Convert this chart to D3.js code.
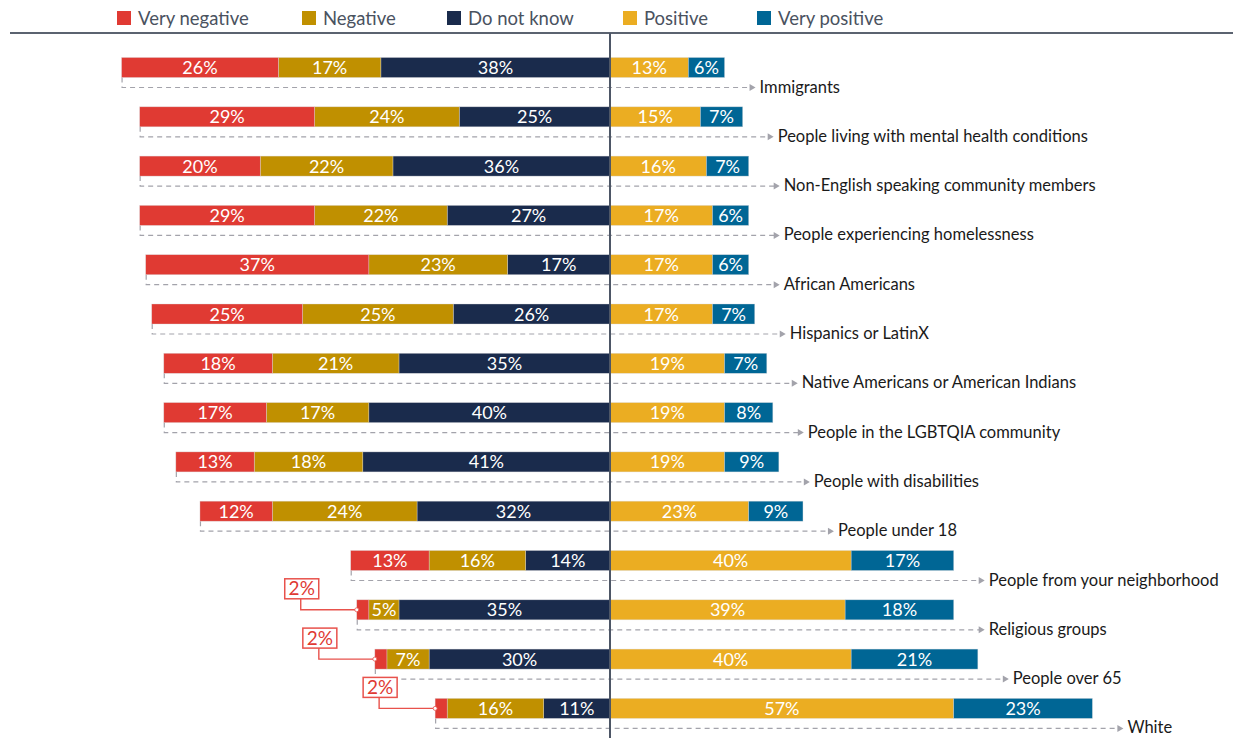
<!DOCTYPE html>
<html>
<head>
<meta charset="utf-8">
<script src="https://cdn.jsdelivr.net/npm/d3@7"></script>
<style>
  html, body { margin: 0; padding: 0; background: #fff; }
  svg { display: block; font-family: Lato, "Noto Sans", sans-serif; }
</style>
</head>
<body>
<svg id="chart" width="1233" height="738"></svg>
<script>
// Attitudes toward community groups, share of responses (%)
const categories = [
  "Immigrants",
  "People living with mental health conditions",
  "Non-English speaking community members",
  "People experiencing homelessness",
  "African Americans",
  "Hispanics or LatinX",
  "Native Americans or American Indians",
  "People in the LGBTQIA community",
  "People with disabilities",
  "People under 18",
  "People from your neighborhood",
  "Religious groups",
  "People over 65",
  "White"
];
const seriesNames = ["Very negative", "Negative", "Do not know", "Positive", "Very positive"];
const veryNegative = [26, 29, 20, 29, 37, 25, 18, 17, 13, 12, 13, 2, 2, 2];
const negative     = [17, 24, 22, 22, 23, 25, 21, 17, 18, 24, 16, 5, 7, 16];
const doNotKnow    = [38, 25, 36, 27, 17, 26, 35, 40, 41, 32, 14, 35, 30, 11];
const positive     = [13, 15, 16, 17, 17, 17, 19, 19, 19, 23, 40, 39, 40, 57];
const veryPositive = [6, 7, 7, 6, 6, 7, 7, 8, 9, 9, 17, 18, 21, 23];
const colors = ["#e03a33", "#c09000", "#1a2b4c", "#ebad22", "#006695"];

const svg = d3.select("#chart");
const W = 1233, H = 738;
const center = 610;

// percent -> horizontal offset from the divider
const x = d3.scaleLinear().domain([0, 100]).range([0, 603]);
const y = d3.scaleBand().domain(categories).range([57.5, 57.5 + 49.3 * categories.length]).padding(0);
const barH = 20;

// legend
const legend = svg.append("g");
const legendPos = [117, 302, 447, 623, 757];
seriesNames.forEach((name, i) => {
  const g = legend.append("g").attr("transform", `translate(${legendPos[i]},0)`);
  g.append("rect").attr("x", 0).attr("y", 11).attr("width", 14).attr("height", 14).attr("fill", colors[i]);
  g.append("text").attr("x", 21).attr("y", 25).attr("font-size", 18.5).attr("fill", "#4a5260").text(name);
});
svg.append("line").attr("x1", 10).attr("x2", W).attr("y1", 33).attr("y2", 33)
  .attr("stroke", "#5b6370").attr("stroke-width", 2);

const rows = categories.map((c, i) => {
  const left = [veryNegative[i], negative[i], doNotKnow[i]];
  const right = [positive[i], veryPositive[i]];
  const segs = [];
  // left side stacks outward from the divider: Do not know, Negative, Very negative
  let acc = 0;
  for (let k = 2; k >= 0; k--) {
    segs.push({ k, v: left[k], x0: center - x(acc + left[k]), x1: center - x(acc) });
    acc += left[k];
  }
  const leftEnd = center - x(acc);
  let racc = 0;
  right.forEach((v, j) => {
    segs.push({ k: 3 + j, v, x0: center + x(racc), x1: center + x(racc + v) });
    racc += v;
  });
  const rightEnd = center + x(racc);
  return { c, i, segs, leftEnd, rightEnd };
});

const gRows = svg.append("g");
rows.forEach(r => {
  const y0 = y(r.c);
  const g = gRows.append("g");

  // leader from the bar's start to the group name
  const ly = y0 + 30;
  const labelX = r.rightEnd + 35;
  g.append("path")
    .attr("d", `M${r.leftEnd + 0.5},${y0 + barH} V${ly} H${labelX - 9}`)
    .attr("fill", "none").attr("stroke", "#a3a3ab").attr("stroke-width", 1.2)
    .attr("stroke-dasharray", "5,4");
  g.append("path")
    .attr("d", `M${labelX - 10},${ly - 3.5} L${labelX - 4},${ly} L${labelX - 10},${ly + 3.5} Z`)
    .attr("fill", "#a3a3ab");
  g.append("text").attr("x", labelX).attr("y", ly + 5)
    .attr("font-size", 16.5).attr("fill", "#1a1a1a").text(r.c);

  g.selectAll("rect.seg").data(r.segs).join("rect")
    .attr("class", "seg")
    .attr("x", d => d.x0).attr("y", y0)
    .attr("width", d => d.x1 - d.x0).attr("height", barH)
    .attr("fill", d => colors[d.k])
    .attr("stroke", "#d8d8dc").attr("stroke-opacity", 0.6).attr("stroke-width", 0.6);

  r.segs.forEach(d => {
    if (d.x1 - d.x0 >= 24) {
      g.append("text")
        .attr("x", (d.x0 + d.x1) / 2).attr("y", y0 + barH / 2 + 6.5)
        .attr("text-anchor", "middle").attr("font-size", 18).attr("fill", "#fff")
        .text(d.v + "%");
    } else {
      // callout for segments too narrow to hold their label
      const bx = d.x0 - 72, by = y0 - 21, bw = 34, bh = 20;
      g.append("path")
        .attr("d", `M${bx + 16},${by + bh} V${y0 + barH / 2} H${d.x0}`)
        .attr("fill", "none").attr("stroke", "#e8524c").attr("stroke-width", 1.4);
      g.append("circle").attr("cx", d.x0).attr("cy", y0 + barH / 2).attr("r", 2)
        .attr("fill", "#fff").attr("stroke", "#e8524c").attr("stroke-width", 0.8);
      g.append("rect").attr("x", bx).attr("y", by).attr("width", bw).attr("height", bh)
        .attr("fill", "#fff").attr("stroke", "#e8524c").attr("stroke-width", 1.5);
      g.append("text").attr("x", bx + bw / 2).attr("y", by + 16.5)
        .attr("text-anchor", "middle").attr("font-size", 19).attr("fill", "#e03a33")
        .text(d.v + "%");
    }
  });
});

// divider at zero
svg.append("line").attr("x1", center).attr("x2", center).attr("y1", 33).attr("y2", H)
  .attr("stroke", "#4d5666").attr("stroke-width", 2);
</script>
</body>
</html>
